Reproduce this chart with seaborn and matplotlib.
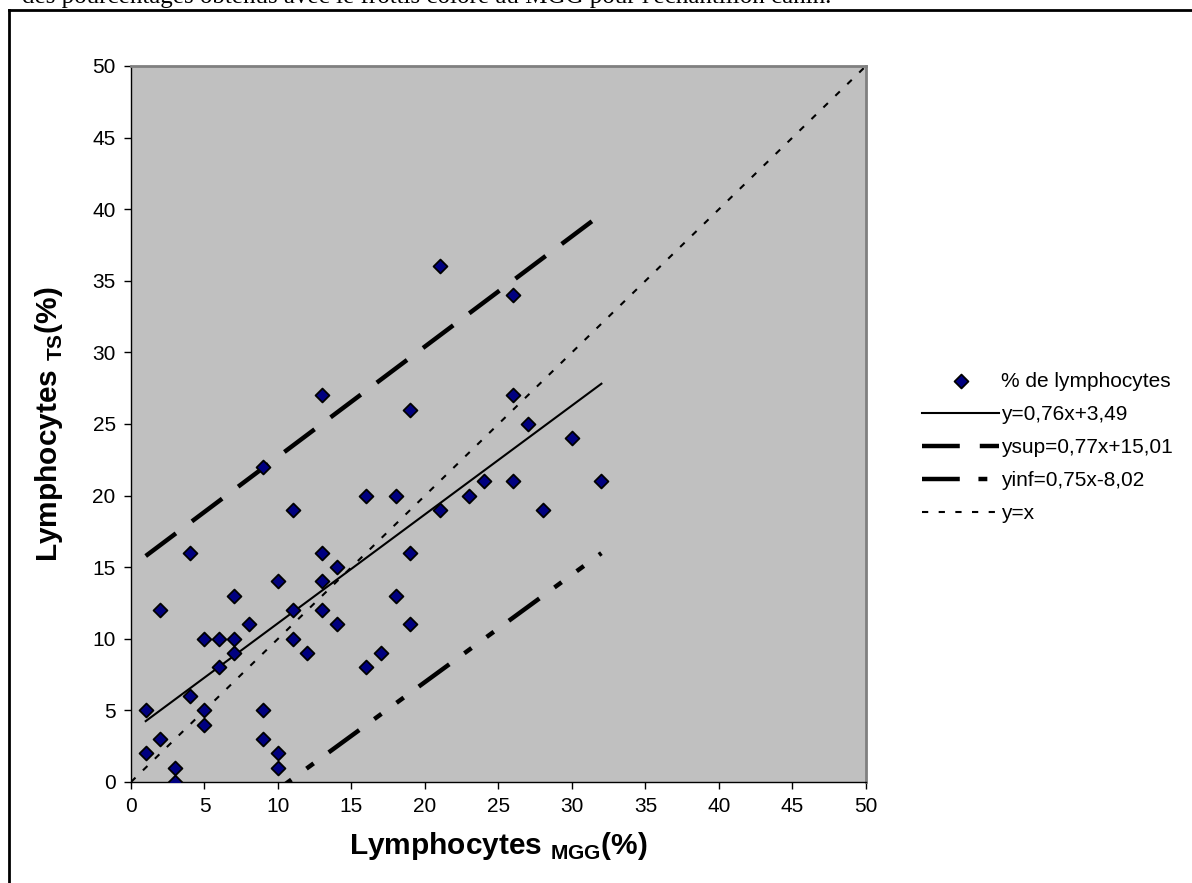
import matplotlib
matplotlib.use("Agg")
import matplotlib.pyplot as plt
import seaborn as sns
import pandas as pd
from matplotlib.lines import Line2D

# % lymphocytes counted on MGG smear (x) and on TS smear (y)
mgg = [1, 1, 2, 2, 3, 3, 4, 4, 5, 5, 5, 6, 6, 7, 7, 7, 8, 9, 9, 9, 10, 10, 10,
       11, 11, 11, 12, 13, 13, 13, 13, 14, 14, 16, 16, 17, 18, 18, 19, 19, 19,
       21, 21, 23, 24, 26, 26, 26, 27, 28, 30, 32]
ts = [5, 2, 12, 3, 1, 0, 16, 6, 10, 5, 4, 10, 8, 13, 10, 9, 11, 22, 5, 3, 14, 2, 1,
      19, 12, 10, 9, 27, 16, 14, 12, 15, 11, 20, 8, 9, 20, 13, 26, 16, 11,
      36, 19, 20, 21, 34, 27, 21, 25, 19, 24, 21]

line_labels = ["y=0,76x+3,49", "ysup=0,77x+15,01", "yinf=0,75x-8,02", "y=x"]
slopes = [0.76, 0.77, 0.75, 1.0]
intercepts = [3.49, 15.01, -8.02, 0.0]
x_from = [1, 1, 1, 0]
x_to = [32, 32, 32, 50]

ticks = list(range(0, 51, 5))

plt.rcParams['font.family'] = ['Liberation Sans', 'DejaVu Sans']
plt.rcParams['mathtext.fontset'] = 'custom'
plt.rcParams['mathtext.rm'] = 'Liberation Sans'
plt.rcParams['mathtext.bf'] = 'Liberation Sans:bold'

fig = plt.figure(figsize=(11.92, 8.83), dpi=100)
ax = fig.add_axes([0.1099, 0.1144, 0.6166, 0.8109])
ax.set_facecolor('#C0C0C0')

df = pd.DataFrame({'mgg': mgg, 'ts': ts})
sns.scatterplot(data=df, x='mgg', y='ts', marker='D', s=50, color='#000080',
                edgecolor='black', linewidth=1.3, ax=ax, zorder=5,
                label='% de lymphocytes', legend=False)

styles = [
    dict(lw=1.5, ls='-'),
    dict(lw=3.2, ls=(0, (8.5, 4.5))),
    dict(lw=3.2, ls=(0, (8.5, 4.2, 2.0, 4.2, 2.0, 4.2))),
    dict(lw=1.5, ls=(0, (3.0, 5.0))),
]
for lab, a, b, x0, x1, st in zip(line_labels, slopes, intercepts, x_from, x_to, styles):
    lx = [x0, x1]
    ly = [a * x0 + b, a * x1 + b]
    sns.lineplot(x=lx, y=ly, color='black', linewidth=st['lw'], linestyle=st['ls'],
                 ax=ax, label=lab, legend=False, sort=False)

ax.set_xlim(0, 50)
ax.set_ylim(0, 50)
ax.set_xticks(ticks)
ax.set_yticks(ticks)
ax.tick_params(direction='out', length=5, width=1, labelsize=15, pad=6, colors='black')
for s in ['left', 'bottom']:
    ax.spines[s].set_color('black')
    ax.spines[s].set_linewidth(1)
for s in ['top', 'right']:
    ax.spines[s].set_color('#808080')
    ax.spines[s].set_linewidth(2)

ax.set_xlabel(r'Lymphocytes $_{\mathbf{MGG}}$(%)', fontsize=21.5, fontweight='bold', labelpad=10)
ax.set_ylabel(r'Lymphocytes $_{\mathbf{TS}}$(%)', fontsize=21.5, fontweight='bold', labelpad=20)

handles, labels = ax.get_legend_handles_labels()
ax.legend(handles, labels, loc='center left', bbox_to_anchor=(0.7735, 0.4932),
          bbox_transform=fig.transFigure, frameon=False, fontsize=15,
          handlelength=3.7, handletextpad=0.1, borderpad=0, borderaxespad=0,
          labelspacing=0.68, markerscale=1.0)

# caption cut off at the top and frame of the document
fig.text(0.0185, 0.9966, "des pourcentages obtenus avec le frottis coloré au MGG pour l'échantillon canin.",
         family='Liberation Serif', fontsize=18, va='baseline', ha='left')
fig.add_artist(Line2D([0.0073, 0.0073], [0, 0.989], color='black', lw=2, transform=fig.transFigure))
fig.add_artist(Line2D([0.0073, 1], [0.989, 0.989], color='black', lw=2, transform=fig.transFigure))

fig.savefig('out.png', dpi=100)
